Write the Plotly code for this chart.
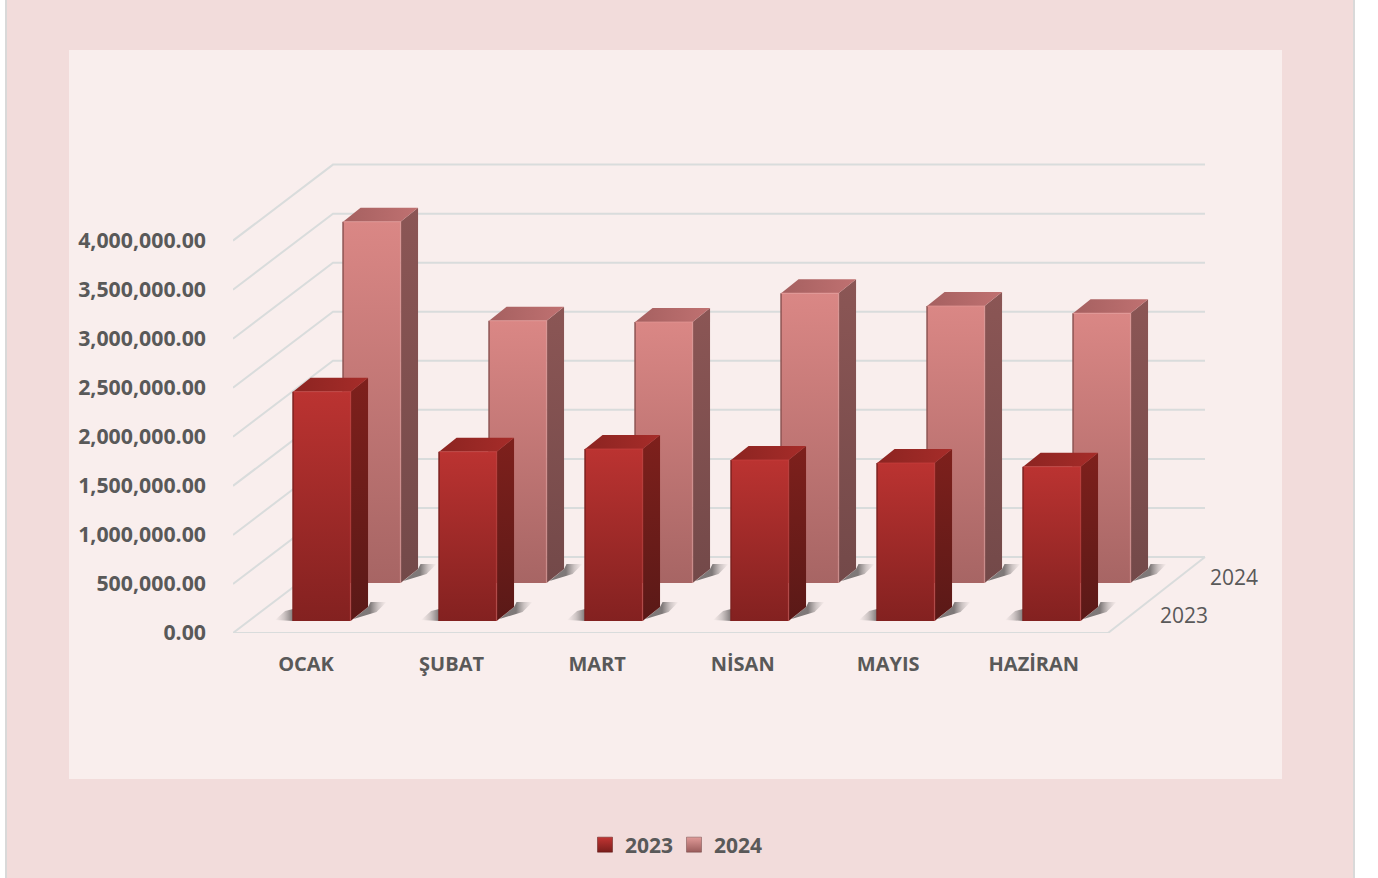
import plotly.graph_objects as go

months = ["OCAK", "ŞUBAT", "MART", "NİSAN", "MAYIS", "HAZİRAN"]
values_2023 = [2337000, 1726000, 1753000, 1640000, 1610000, 1573000]
values_2024 = [3683000, 2674000, 2660000, 2953000, 2824000, 2750000]
y_ticks = [0, 500000, 1000000, 1500000, 2000000, 2500000, 3000000, 3500000, 4000000]

W, H = 1378, 878
LEFT, RIGHT, TOP, BOTTOM = 233, 1260, 130, 633
CAT_PX = 146.0  # pixels per category
VAL_PX = 98.1 / 1e6  # pixels per unit of value

# oblique projection: one series step back moves right and up
STEP_X = 50 / CAT_PX
STEP_Y = 38 / VAL_PX
BAR_X = 57.5 / CAT_PX
BAR_DX = 17.5 / CAT_PX
BAR_DY = 14 / VAL_PX
GAP = (1 - BAR_X) / 2
DEPTH_START = 0.316
FLOOR_W = 875 / CAT_PX
WALL_W = 872 / CAT_PX

GRID = "#d9dcdc"
TEXT = "#595959"
SHADOW = "rgba(105,100,100,0.85)"
SHADOW_SOFT = "rgba(125,120,120,0.35)"
SHADOW_END = "rgba(140,135,135,0)"

# colours per series: front top/bottom, side top/bottom, top left/right, edges
STYLE = {
    "2023": dict(front=("#bb3331", "#832120"), side=("#7e201c", "#5a1917"), top=("#8c2421", "#a62c29"),
                 dark="#7d1f1d", light="#c94240", swatch="#c23533", swatch_end="#7a1e1c"),
    "2024": dict(front=("#da8785", "#a76564"), side=("#8b5655", "#734949"), top=("#a56060", "#c07171"),
                 dark="#8d5352", light="#e59a98", swatch="#e09a98", swatch_end="#9a5c5b"),
}


def px_x(p):
    return (p - LEFT) / (RIGHT - LEFT)


def px_y(p):
    return (BOTTOM - p) / (BOTTOM - TOP)


def poly(xs, ys, colorscale, kind="vertical"):
    # closed polygon with a gradient fill
    return go.Scatter(x=xs + xs[:1], y=ys + ys[:1], mode="lines", fill="toself", line=dict(width=0),
                      fillgradient=dict(type=kind, colorscale=colorscale),
                      hoverinfo="skip", showlegend=False)


fig = go.Figure()

# walls and floor
for v in y_ticks:
    fig.add_trace(go.Scatter(x=[0, 2 * STEP_X, 2 * STEP_X + WALL_W], y=[v, v + 2 * STEP_Y, v + 2 * STEP_Y],
                             mode="lines", line=dict(color=GRID, width=2), hoverinfo="skip",
                             showlegend=False, cliponaxis=False))
fig.add_trace(go.Scatter(x=[0, FLOOR_W, 2 * STEP_X + WALL_W], y=[0, 0, 2 * STEP_Y], mode="lines",
                         line=dict(color=GRID, width=2), hoverinfo="skip", showlegend=False, cliponaxis=False))

# back series first so the front one covers it
for depth, name, values in [(1, "2024", values_2024), (0, "2023", values_2023)]:
    st = STYLE[name]
    for i, v in enumerate(values):
        d = depth + DEPTH_START
        x0 = i + GAP + d * STEP_X
        x1 = x0 + BAR_X
        y0 = d * STEP_Y
        y1 = y0 + v
        # floor shadows
        fig.add_trace(poly([x1 + 3 / CAT_PX, x1 + BAR_DX, x1 + 20 / CAT_PX, x1 + 36 / CAT_PX, x1 + 26 / CAT_PX],
                           [y0 + 2 / VAL_PX, y0 + BAR_DY, y0 + 19 / VAL_PX, y0 + 19 / VAL_PX, y0 + 9 / VAL_PX],
                           [[0, SHADOW], [0.5, SHADOW], [0.75, SHADOW_SOFT], [1, SHADOW_END]], "horizontal"))
        fig.add_trace(poly([x0 - 18 / CAT_PX, x0, x0, x0 - 8 / CAT_PX],
                           [y0 + 1 / VAL_PX, y0, y0 + 12 / VAL_PX, y0 + 10 / VAL_PX],
                           [[0, SHADOW_END], [0.5, SHADOW_SOFT], [1, SHADOW]], "horizontal"))
        # faces
        fig.add_trace(poly([x1, x1 + BAR_DX, x1 + BAR_DX, x1], [y0, y0 + BAR_DY, y1 + BAR_DY, y1],
                           [[0, st["side"][1]], [1, st["side"][0]]]))
        fig.add_trace(poly([x0, x1, x1 + BAR_DX, x0 + BAR_DX], [y1, y1, y1 + BAR_DY, y1 + BAR_DY],
                           [[0, st["top"][0]], [1, st["top"][1]]], "horizontal"))
        fig.add_trace(poly([x0, x1, x1, x0], [y0, y0, y1, y1],
                           [[0, st["front"][1]], [1, st["front"][0]]]))
        # bevel edges
        fig.add_trace(go.Scatter(x=[x0, x0], y=[y0, y1], mode="lines", line=dict(color=st["dark"], width=1.5),
                                 hoverinfo="skip", showlegend=False))
        fig.add_trace(go.Scatter(x=[x0, x1, x1], y=[y1, y1, y0], mode="lines",
                                 line=dict(color=st["light"], width=1.5), opacity=0.45,
                                 hoverinfo="skip", showlegend=False))

# legend entries
for name in ["2023", "2024"]:
    st = STYLE[name]
    fig.add_trace(go.Scatter(x=[None], y=[None], mode="markers", name=name,
                             marker=dict(symbol="square", size=15, color=st["swatch"],
                                         gradient=dict(type="vertical", color=st["swatch_end"]),
                                         line=dict(color=st["side"][1], width=0.5))))

# series labels on the depth axis
for depth, name in [(0.5, "2023"), (1.5, "2024")]:
    fig.add_annotation(x=FLOOR_W + depth * STEP_X, y=depth * STEP_Y, text=name, showarrow=False, xanchor="left",
                       xshift=24.5, yshift=-1, font=dict(family="Open Sans", size=21, color=TEXT))

# frame of the original sheet
frame = [(5, 1355, -1, 879, "#d9d9d9"), (7, 1353, -1, 879, "#f2dcdb"), (69, 1282, 50, 779, "#f9eeed")]
for a, b, c, d, color in frame:
    fig.add_shape(type="rect", xref="paper", yref="paper", x0=px_x(a), x1=px_x(b), y0=px_y(d), y1=px_y(c),
                  fillcolor=color, line=dict(width=0), layer="below")

fig.update_layout(
    width=W, height=H,
    margin=dict(l=LEFT, r=W - RIGHT, t=TOP, b=H - BOTTOM),
    paper_bgcolor="white", plot_bgcolor="rgba(0,0,0,0)",
    font=dict(family="Open Sans", color=TEXT),
    xaxis=dict(range=[0, (RIGHT - LEFT) / CAT_PX], showgrid=False, zeroline=False, showline=False,
               tickmode="array", tickvals=[0.5 + i * 0.997 for i in range(len(months))], ticktext=months,
               ticks="", ticklabelstandoff=17, tickfont=dict(family="Open Sans", size=20, weight="bold", color=TEXT)),
    yaxis=dict(range=[0, (BOTTOM - TOP) / VAL_PX], showgrid=False, zeroline=False, showline=False,
               tickmode="array", tickvals=y_ticks, tickformat=",.2f",
               ticks="", ticklabelstandoff=26, tickfont=dict(family="Open Sans", size=21.3, weight="bold", color=TEXT)),
    legend=dict(orientation="h", x=px_x(674), xanchor="center", y=px_y(845), yanchor="middle",
                bgcolor="rgba(0,0,0,0)", font=dict(family="Open Sans", size=21, weight="bold", color=TEXT),
                entrywidth=44, entrywidthmode="pixels"),
)

fig.write_html("out.html", post_script="document.body.style.margin='0';document.body.style.overflow='hidden';",
               config={"displayModeBar": False})
